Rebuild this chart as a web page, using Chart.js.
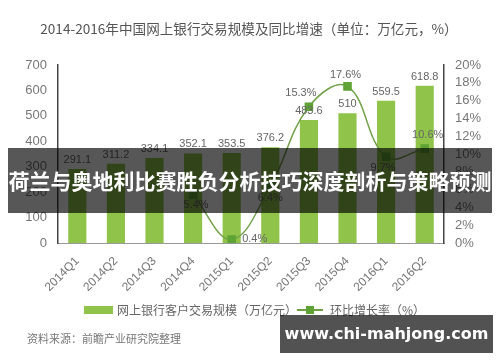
<!DOCTYPE html>
<html><head><meta charset="utf-8">
<script src="https://cdn.jsdelivr.net/npm/chart.js@4"></script>
<style>
html,body{margin:0;padding:0;background:#fff;}
#wrap{position:relative;width:500px;height:362px;overflow:hidden;font-family:"Liberation Sans","Noto Sans CJK SC",sans-serif;}
#c{position:absolute;left:0;top:0;}
.title{position:absolute;left:0;width:498px;top:18px;text-align:center;font-size:13.6px;color:#555;font-family:"Noto Sans CJK SC",sans-serif;line-height:20px;white-space:nowrap;}
.leg{position:absolute;top:302px;font-size:12px;color:#666;line-height:16px;font-family:"Noto Sans CJK SC",sans-serif;white-space:nowrap;}
.sw{position:absolute;left:84px;top:306px;width:29px;height:8px;background:#8fc34a;}
.ln{position:absolute;left:297px;top:309px;width:26px;height:2px;background:#6e9e42;}
.mk{position:absolute;left:306px;top:306px;width:8px;height:8px;background:#5fa334;}
.src{position:absolute;left:27px;top:331px;font-size:11px;color:#777;font-family:"Noto Sans CJK SC",sans-serif;line-height:14px;white-space:nowrap;}
.banner{position:absolute;left:8px;top:148px;width:484px;height:65px;background:rgba(0,0,0,0.66);color:#fff;font-weight:bold;font-size:21px;line-height:65px;text-align:center;font-family:"Noto Sans CJK SC",sans-serif;white-space:nowrap;}
.wm{position:absolute;left:280px;top:315px;width:213px;height:38px;background:rgba(0,0,0,0.68);color:#fff;font-weight:bold;font-size:16px;line-height:38px;text-align:center;font-family:"DejaVu Sans",sans-serif;white-space:nowrap;}
</style></head>
<body><div id="wrap">
<canvas id="c" width="500" height="362"></canvas>
<div class="title">2014-2016年中国网上银行交易规模及同比增速（单位：万亿元，%）</div>
<div class="sw"></div><div class="leg" style="left:117px">网上银行客户交易规模（万亿元）</div>
<div class="ln"></div><div class="mk"></div><div class="leg" style="left:330px">环比增长率（%）</div>
<div class="src">资料来源：前瞻产业研究院整理</div>
<div class="banner">荷兰与奥地利比赛胜负分析技巧深度剖析与策略预测</div>
<div class="wm">www.chi-mahjong.com</div>
</div>
<script>
const categories = ['2014Q1','2014Q2','2014Q3','2014Q4','2015Q1','2015Q2','2015Q3','2015Q4','2016Q1','2016Q2'];
const volume = [291.1, 311.2, 334.1, 352.1, 353.5, 376.2, 483.6, 510, 559.5, 618.8];
const growth = [null, null, null, 5.4, 0.4, 6.4, 15.3, 17.6, 9.7, 10.6];
const leftMax = 700, leftStep = 100;
const rightMax = 20, rightStep = 2;

// label placement for the growth line: [dx, dy]
const growthLabelPlace = {3:[3,10],4:[23,0],5:[0,12],6:[-8,-14],7:[-2,-11],8:[-3,11],9:[3,-14]};

const labelPlugin = {
  id: 'valueLabels',
  afterDatasetsDraw(chart) {
    const ctx = chart.ctx;
    ctx.save();
    ctx.font = '11px "Liberation Sans", sans-serif';
    ctx.fillStyle = '#666';
    ctx.textAlign = 'center';
    ctx.textBaseline = 'middle';
    const barMeta = chart.getDatasetMeta(1);
    barMeta.data.forEach((el, i) => {
      ctx.fillText(String(volume[i]), el.x, el.y - 9);
    });
    const lineMeta = chart.getDatasetMeta(0);
    lineMeta.data.forEach((el, i) => {
      if (growth[i] === null) return;
      const p = growthLabelPlace[i] || [0, -12];
      ctx.fillText(growth[i].toFixed(1) + '%', el.x + p[0], el.y + p[1]);
    });
    ctx.restore();
  }
};

new Chart(document.getElementById('c'), {
  data: {
    labels: categories,
    datasets: [
      {
        type: 'line', label: '环比增长率（%）', data: growth, yAxisID: 'y1', order: 0,
        borderColor: '#74a24a', borderWidth: 1.5, tension: 0.4,
        pointStyle: 'rect', pointRadius: 5, pointBackgroundColor: '#5fa334', pointBorderColor: '#5fa334',
        spanGaps: false
      },
      {
        type: 'bar', label: '网上银行客户交易规模（万亿元）', data: volume, yAxisID: 'y', order: 1,
        backgroundColor: '#8fc34a', barPercentage: 0.47, categoryPercentage: 1
      }
    ]
  },
  options: {
    responsive: false, animation: false,
    layout: { padding: { top: 65, left: 0, right: 0, bottom: 0 } },
    plugins: { legend: { display: false }, tooltip: { enabled: false } },
    scales: {
      x: {
        grid: { display: false },
        border: { display: true, color: '#999', width: 1 },
        ticks: { maxRotation: 45, minRotation: 45, autoSkip: false, color: '#777', font: { size: 12, family: '"Liberation Sans", sans-serif' } },
        afterFit: s => { s.height = 119; }
      },
      y: {
        position: 'left', min: 0, max: leftMax,
        grid: { display: false },
        border: { display: true, color: '#444', width: 1.5 },
        ticks: { stepSize: leftStep, autoSkip: false, color: '#777', font: { size: 13, family: '"Liberation Sans", sans-serif' } },
        afterFit: s => { s.width = 58; }
      },
      y1: {
        position: 'right', min: 0, max: rightMax,
        grid: { display: false },
        border: { display: true, color: '#444', width: 1.5 },
        ticks: { stepSize: rightStep, autoSkip: false, color: '#777', font: { size: 13, family: '"Liberation Sans", sans-serif' }, callback: v => v + '%' },
        afterFit: s => { s.width = 56; }
      }
    }
  },
  plugins: [labelPlugin]
});
</script>
</body></html>
